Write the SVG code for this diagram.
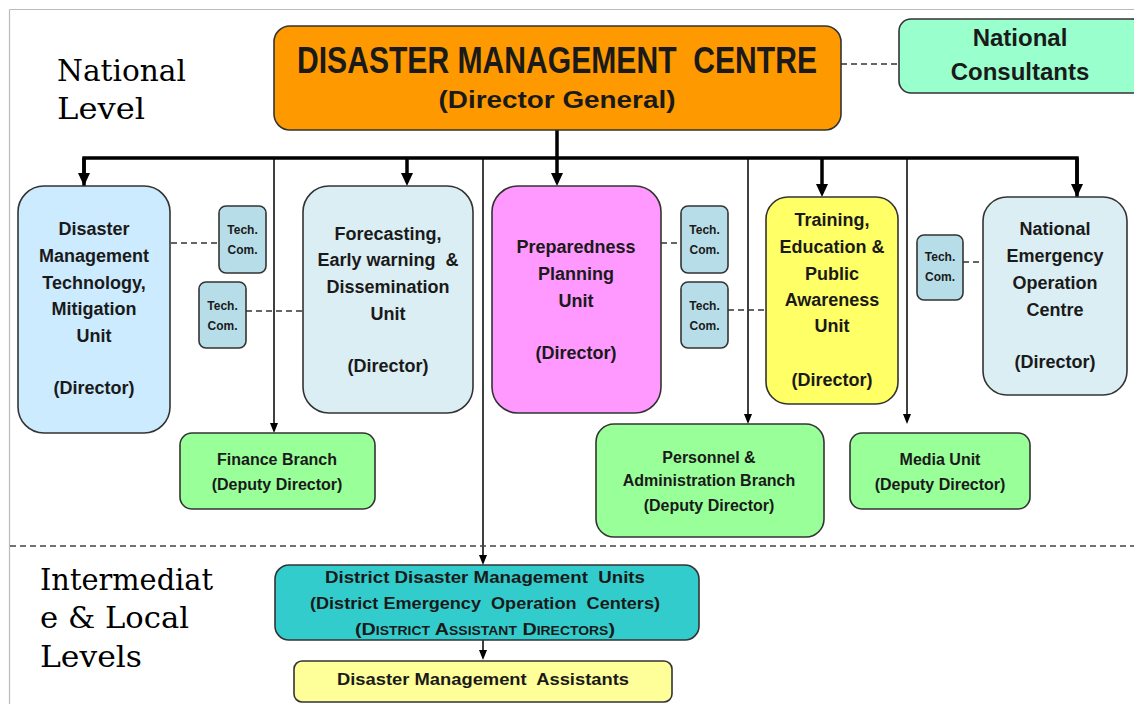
<svg xmlns="http://www.w3.org/2000/svg" width="1134" height="704" viewBox="0 0 1134 704">
<defs>
<marker id="ahThick" markerUnits="userSpaceOnUse" markerWidth="14" markerHeight="14" refX="9" refY="6" orient="auto">
<path d="M0,0 L13,6 L0,12 z" fill="#000"/>
</marker>
<marker id="ahThin" markerUnits="userSpaceOnUse" markerWidth="11" markerHeight="10" refX="7" refY="4" orient="auto">
<path d="M0,0 L10,4 L0,8 z" fill="#000"/>
</marker>
<style>
.box{stroke:#333;stroke-width:1.6}
.t{font-family:"Liberation Sans",Arial,sans-serif;font-weight:bold;fill:#1a1a1a;text-anchor:middle}
.pre{white-space:pre}
.u{font-size:18px}
.s{font-size:16px}
.tc{font-size:12px}
.lvl{font-family:"DejaVu Serif","Liberation Serif",serif;font-size:30px;fill:#000}
.thick{stroke:#000;stroke-width:3.5;fill:none}
.thin{stroke:#000;stroke-width:1.5;fill:none}
.dash{stroke:#333;stroke-width:1.5;stroke-dasharray:6 4;fill:none}
</style>
</defs>
<rect width="1134" height="704" fill="#fff"/>
<g id="frame" stroke="#bbb" stroke-width="1.2">
<line x1="9.5" y1="9.5" x2="1134" y2="9.5"/>
<line x1="9.5" y1="9.5" x2="9.5" y2="704"/>
</g>
<g id="level-labels">
<text class="lvl" x="57" y="81" textLength="129" lengthAdjust="spacingAndGlyphs">National</text>
<text class="lvl" x="57" y="119" textLength="88" lengthAdjust="spacingAndGlyphs">Level</text>
<text class="lvl" x="40" y="590" textLength="173" lengthAdjust="spacingAndGlyphs">Intermediat</text>
<text class="lvl" x="40" y="628" textLength="149" lengthAdjust="spacingAndGlyphs">e &amp; Local</text>
<text class="lvl" x="40" y="667" textLength="102" lengthAdjust="spacingAndGlyphs">Levels</text>
</g>
<g id="connectors">
<path class="thick" d="M557,130 V158"/>
<path class="thick" d="M84,186 V158 H1077 V197"/>
<path class="thick" d="M84,158 V182" marker-end="url(#ahThick)"/>
<path class="thick" d="M407,158 V182" marker-end="url(#ahThick)"/>
<path class="thick" d="M557,158 V182" marker-end="url(#ahThick)"/>
<path class="thick" d="M822,158 V193" marker-end="url(#ahThick)"/>
<path class="thick" d="M1077,158 V193" marker-end="url(#ahThick)"/>
<path class="thin" d="M274,158 V430" marker-end="url(#ahThin)"/>
<path class="thin" d="M483,158 V562" marker-end="url(#ahThin)"/>
<path class="thin" d="M748,158 V421" marker-end="url(#ahThin)"/>
<path class="thin" d="M907,158 V421" marker-end="url(#ahThin)"/>
<path class="thin" d="M483,628 V657" marker-end="url(#ahThin)"/>
<path class="dash" d="M841,64 H899"/>
<path class="dash" d="M171,243 H219"/>
<path class="dash" d="M246,311 H303"/>
<path class="dash" d="M661,243 H681"/>
<path class="dash" d="M728,310 H766"/>
<path class="dash" d="M963,262 H983"/>
<path d="M10,546 H1134" stroke="#444" stroke-width="1.5" stroke-dasharray="6 4"/>
</g>
<g id="dmc">
<rect class="box" x="274" y="26" width="567" height="104" rx="16" fill="#FF9900"/>
<text class="t pre" x="557" y="73" font-size="36" textLength="520" lengthAdjust="spacingAndGlyphs" fill="#000">DISASTER MANAGEMENT  CENTRE</text>
<text class="t" x="557" y="108" font-size="23" textLength="237" lengthAdjust="spacingAndGlyphs">(Director General)</text>
</g>
<g id="consultants">
<rect class="box" x="899" y="19" width="245" height="74" rx="12" fill="#99FFCC"/>
<text class="t" x="1020" y="46" font-size="24">National</text>
<text class="t" x="1020" y="80" font-size="24">Consultants</text>
</g>
<g id="dmt">
<rect class="box" x="18" y="186" width="152" height="247" rx="26" fill="#CCEBFF"/>
<text class="t u" x="94" y="235">Disaster</text>
<text class="t u" x="94" y="262">Management</text>
<text class="t u" x="94" y="289">Technology,</text>
<text class="t u" x="94" y="315">Mitigation</text>
<text class="t u" x="94" y="342">Unit</text>
<text class="t u" x="94" y="394">(Director)</text>
</g>
<g id="tech1">
<rect class="box" x="219" y="206" width="47" height="67" rx="7" fill="#B7DEE8"/>
<text class="t tc" x="242.5" y="234">Tech.</text>
<text class="t tc" x="242.5" y="254">Com.</text>
</g>
<g id="tech2">
<rect class="box" x="199" y="282" width="47" height="66" rx="7" fill="#B7DEE8"/>
<text class="t tc" x="222.5" y="310">Tech.</text>
<text class="t tc" x="222.5" y="330">Com.</text>
</g>
<g id="forecasting">
<rect class="box" x="303" y="186" width="170" height="227" rx="26" fill="#DAEEF3"/>
<text class="t u" x="388" y="240">Forecasting,</text>
<text class="t u pre" x="388" y="266">Early warning  &amp;</text>
<text class="t u" x="388" y="293">Dissemination</text>
<text class="t u" x="388" y="320">Unit</text>
<text class="t u" x="388" y="372">(Director)</text>
</g>
<g id="preparedness">
<rect class="box" x="492" y="186" width="169" height="227" rx="26" fill="#FF99FF"/>
<text class="t u" x="576" y="253">Preparedness</text>
<text class="t u" x="576" y="280">Planning</text>
<text class="t u" x="576" y="307">Unit</text>
<text class="t u" x="576" y="359">(Director)</text>
</g>
<g id="tech3">
<rect class="box" x="681" y="206" width="47" height="67" rx="7" fill="#B7DEE8"/>
<text class="t tc" x="704.5" y="234">Tech.</text>
<text class="t tc" x="704.5" y="254">Com.</text>
</g>
<g id="tech4">
<rect class="box" x="681" y="282" width="47" height="66" rx="7" fill="#B7DEE8"/>
<text class="t tc" x="704.5" y="310">Tech.</text>
<text class="t tc" x="704.5" y="330">Com.</text>
</g>
<g id="training">
<rect class="box" x="766" y="197" width="132" height="207" rx="22" fill="#FFFF66"/>
<text class="t u" x="832" y="226">Training,</text>
<text class="t u" x="832" y="253">Education &amp;</text>
<text class="t u" x="832" y="280">Public</text>
<text class="t u" x="832" y="306">Awareness</text>
<text class="t u" x="832" y="332">Unit</text>
<text class="t u" x="832" y="386">(Director)</text>
</g>
<g id="tech5">
<rect class="box" x="917" y="235" width="46" height="65" rx="7" fill="#B7DEE8"/>
<text class="t tc" x="940" y="261">Tech.</text>
<text class="t tc" x="940" y="281">Com.</text>
</g>
<g id="neoc">
<rect class="box" x="983" y="197" width="144" height="198" rx="24" fill="#DAEEF3"/>
<text class="t u" x="1055" y="235">National</text>
<text class="t u" x="1055" y="262">Emergency</text>
<text class="t u" x="1055" y="289">Operation</text>
<text class="t u" x="1055" y="316">Centre</text>
<text class="t u" x="1055" y="368">(Director)</text>
</g>
<g id="finance">
<rect class="box" x="180" y="433" width="195" height="76" rx="12" fill="#99FF99"/>
<text class="t s" x="277" y="465">Finance Branch</text>
<text class="t s" x="277" y="490">(Deputy Director)</text>
</g>
<g id="personnel">
<rect class="box" x="596" y="424" width="228" height="113" rx="18" fill="#99FF99"/>
<text class="t s" x="709" y="463">Personnel &amp;</text>
<text class="t s" x="709" y="486">Administration Branch</text>
<text class="t s" x="709" y="511">(Deputy Director)</text>
</g>
<g id="media">
<rect class="box" x="850" y="433" width="180" height="76" rx="12" fill="#99FF99"/>
<text class="t s" x="940" y="465">Media Unit</text>
<text class="t s" x="940" y="490">(Deputy Director)</text>
</g>
<g id="district">
<rect class="box" x="275" y="565" width="424" height="75" rx="14" fill="#33CCCC"/>
<text class="t pre" x="485" y="583" font-size="17" textLength="320" lengthAdjust="spacingAndGlyphs">District Disaster Management  Units</text>
<text class="t pre" x="485" y="609" font-size="17" textLength="350" lengthAdjust="spacingAndGlyphs">(District Emergency  Operation  Centers)</text>
<text class="t" x="485" y="635" font-size="17" font-variant="small-caps" textLength="260" lengthAdjust="spacingAndGlyphs">(District Assistant Directors)</text>
</g>
<g id="assistants">
<rect class="box" x="294" y="661" width="378" height="41" rx="8" fill="#FFFF99"/>
<text class="t pre" x="483" y="685" font-size="17" textLength="292" lengthAdjust="spacingAndGlyphs">Disaster Management  Assistants</text>
</g>
</svg>
